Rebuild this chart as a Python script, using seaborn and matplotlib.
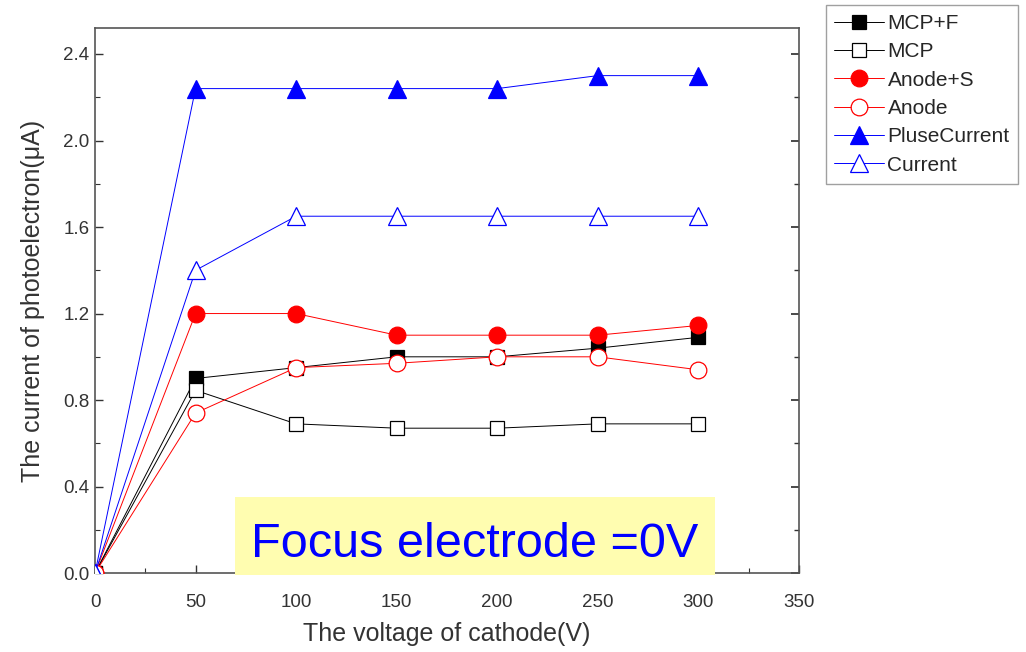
import matplotlib
matplotlib.use("Agg")
import matplotlib.pyplot as plt
from matplotlib.ticker import MultipleLocator, FormatStrFormatter
from matplotlib.patches import Rectangle
import seaborn as sns
import pandas as pd

voltage = [0, 50, 100, 150, 200, 250, 300]
mcp_f = [0.0, 0.90, 0.95, 1.00, 1.00, 1.04, 1.09]
mcp = [0.0, 0.845, 0.69, 0.67, 0.67, 0.69, 0.69]
anode_s = [0.0, 1.20, 1.20, 1.10, 1.10, 1.10, 1.145]
anode = [0.0, 0.74, 0.95, 0.97, 1.00, 1.00, 0.94]
pulse_current = [0.0, 2.24, 2.24, 2.24, 2.24, 2.30, 2.30]
current = [0.0, 1.40, 1.65, 1.65, 1.65, 1.65, 1.65]

series_names = ["MCP+F", "MCP", "Anode+S", "Anode", "PluseCurrent", "Current"]
series_values = [mcp_f, mcp, anode_s, anode, pulse_current, current]

styles = {
    "MCP+F": dict(color="black", marker="s", mfc="black", ms=10),
    "MCP": dict(color="black", marker="s", mfc="white", ms=10),
    "Anode+S": dict(color="red", marker="o", mfc="red", ms=12),
    "Anode": dict(color="red", marker="o", mfc="white", ms=12),
    "PluseCurrent": dict(color="blue", marker="^", mfc="blue", ms=12.5),
    "Current": dict(color="blue", marker="^", mfc="white", ms=12.5),
}

sns.set_theme(style="ticks")
plt.rcParams["font.family"] = ["Liberation Sans", "DejaVu Sans"]

fig = plt.figure(figsize=(10.26, 6.52), dpi=100)
ax = fig.add_axes([0.0926, 0.121, 0.686, 0.836])

for name, vals in zip(series_names, series_values):
    st = styles[name]
    df = pd.DataFrame({"v": voltage, "i": vals})
    sns.lineplot(data=df, x="v", y="i", ax=ax, color=st["color"], lw=0.7,
                 marker=st["marker"], markersize=st["ms"],
                 markerfacecolor=st["mfc"], markeredgecolor=st["color"],
                 markeredgewidth=0.9, label=name, zorder=3)

ax.set_xlim(0, 350)
ax.set_ylim(0, 2.52)
ax.xaxis.set_major_locator(MultipleLocator(50))
ax.xaxis.set_minor_locator(MultipleLocator(25))
ax.yaxis.set_major_locator(MultipleLocator(0.4))
ax.yaxis.set_minor_locator(MultipleLocator(0.2))
ax.yaxis.set_major_formatter(FormatStrFormatter("%.1f"))
ax.tick_params(which="both", direction="in", colors="#333333", labelsize=13.5)
ax.tick_params(which="major", length=6, width=1)
ax.tick_params(which="minor", length=3.5, width=0.8)
ax.tick_params(axis="x", pad=15)
ax.tick_params(axis="y", pad=4)
for sp in ax.spines.values():
    sp.set_color("#555555")
    sp.set_linewidth(1.2)

ax.set_xlabel("The voltage of cathode(V)", fontsize=18, color="#333333", labelpad=8)
ax.set_ylabel("The current of photoelectron(μA)", fontsize=18, color="#333333", labelpad=13)

# inward ticks along the right edge of the frame
ax2 = ax.secondary_yaxis("right")
ax2.yaxis.set_major_locator(MultipleLocator(0.4))
ax2.yaxis.set_minor_locator(MultipleLocator(0.2))
ax2.tick_params(which="both", direction="in", labelright=False, colors="#333333")
ax2.tick_params(which="major", length=6)
ax2.tick_params(which="minor", length=3.5)
ax2.spines["right"].set_visible(False)

leg = ax.legend(loc="upper left", bbox_to_anchor=(1.038, 1.042), frameon=True,
                fancybox=False, edgecolor="#888888", fontsize=15,
                handlelength=2.4, handletextpad=0.15, labelspacing=0.45,
                borderpad=0.42, borderaxespad=0)
leg.get_frame().set_linewidth(1.0)

# annotation panel
ax.add_patch(Rectangle((0.199, -0.004), 0.682, 0.143, transform=ax.transAxes,
                       facecolor="#fffdb0", edgecolor="none", zorder=4,
                       clip_on=False))
ax.text(0.54, 0.029, "Focus electrode =0V", transform=ax.transAxes,
        ha="center", va="baseline", fontsize=35, color="#0000ff", zorder=5)

fig.savefig("out.png", dpi=100)
